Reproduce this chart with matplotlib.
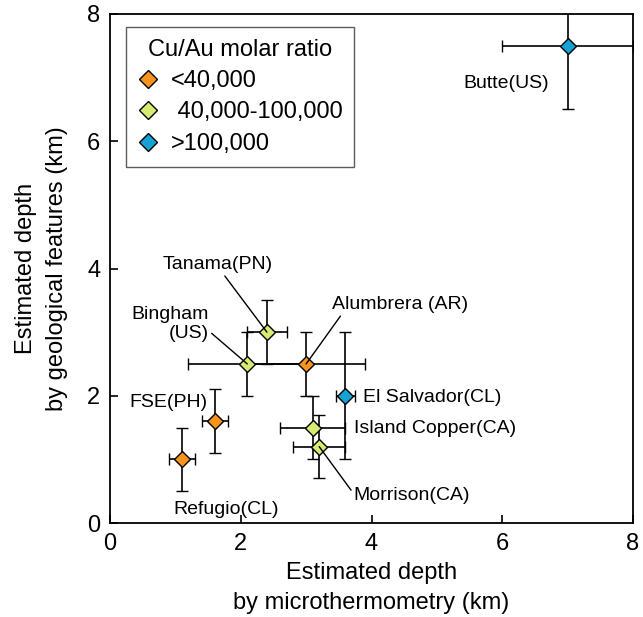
import matplotlib
matplotlib.use('Agg')
from matplotlib import pylab as plt
from matplotlib.lines import Line2D

# deposits
names = ['Butte(US)', 'Tanama(PN)', 'Bingham\n(US)', 'Alumbrera (AR)',
         'El Salvador(CL)', 'Island Copper(CA)', 'Morrison(CA)',
         'FSE(PH)', 'Refugio(CL)']
depth_micro = [7.0, 2.4, 2.1, 3.0, 3.6, 3.1, 3.2, 1.6, 1.1]
depth_geo = [7.5, 3.0, 2.5, 2.5, 2.0, 1.5, 1.2, 1.6, 1.0]
err_micro = [1.0, 0.3, 0.9, 0.9, 0.15, 0.5, 0.4, 0.2, 0.2]
err_geo = [1.0, 0.5, 0.5, 0.5, 1.0, 0.5, 0.5, 0.5, 0.5]
ratio_class = [2, 1, 1, 0, 2, 1, 1, 0, 0]

class_labels = ['<40,000', ' 40,000-100,000', '>100,000']
class_colors = ['#f7941d', '#d8ea72', '#16a2d4']

# label placement (text pos, alignment, relpos of leader line)
label_pos = {
    'Butte(US)': ((6.06, 6.9), 'center', None),
    'Tanama(PN)': ((1.64, 4.06), 'center', (0.55, 0.0)),
    'Bingham\n(US)': ((0.92, 3.13), 'center', (1.0, 0.3)),
    'Alumbrera (AR)': ((4.43, 3.43), 'center', (0.08, 0.0)),
    'El Salvador(CL)': ((3.87, 1.98), 'left', None),
    'Island Copper(CA)': ((3.73, 1.49), 'left', None),
    'Morrison(CA)': ((3.73, 0.43), 'left', (0.0, 0.6)),
    'FSE(PH)': ((0.89, 1.9), 'center', None),
    'Refugio(CL)': ((1.77, 0.22), 'center', None),
}

plt.rcParams['font.family'] = ['Liberation Sans', 'DejaVu Sans']

fig = plt.figure(figsize=(6.43, 6.17), dpi=100)
ax = fig.add_axes([110 / 643, 94 / 617, 523 / 643, 509 / 617])

for i in range(len(names)):
    ax.errorbar(depth_micro[i], depth_geo[i], xerr=err_micro[i], yerr=err_geo[i],
                fmt='D', ms=8.5, mfc=class_colors[ratio_class[i]], mec='black',
                mew=1.0, ecolor='black', elinewidth=1.2, capsize=4.5,
                capthick=1.2, zorder=3)

for i, n in enumerate(names):
    (tx, ty), ha, rel = label_pos[n]
    if rel is None:
        ax.text(tx, ty, n, ha=ha, va='center', fontsize=14)
    else:
        ax.annotate(n, xy=(depth_micro[i], depth_geo[i]), xytext=(tx, ty),
                    ha=ha, va='center', fontsize=14, multialignment='right',
                    linespacing=1.1,
                    arrowprops=dict(arrowstyle='-', color='black', lw=1.0,
                                    shrinkA=0, shrinkB=0, relpos=rel),
                    zorder=4)

ax.set_xlim(0, 8)
ax.set_ylim(0, 8)
ax.set_xticks([0, 2, 4, 6, 8])
ax.set_yticks([0, 2, 4, 6, 8])
ax.tick_params(direction='in', length=6, width=1.2, labelsize=17, pad=7,
               top=False, right=False)
for s in ax.spines.values():
    s.set_linewidth(1.3)

ax.set_xlabel('Estimated depth\nby microthermometry (km)', fontsize=17,
              linespacing=1.5, labelpad=5)
ax.set_ylabel('Estimated depth\nby geological features (km)', fontsize=17,
              linespacing=1.5, labelpad=14)

handles = [Line2D([], [], ls='none', marker='D', ms=9, mfc=c, mec='black', mew=1.0)
           for c in class_colors]
leg = ax.legend(handles, class_labels, title='Cu/Au molar ratio', loc='upper left',
                bbox_to_anchor=(0.03, 0.975), fontsize=17, title_fontsize=17,
                frameon=True, fancybox=False, edgecolor='#333333',
                handlelength=0.9, handletextpad=0.5, labelspacing=0.4,
                borderpad=0.5, borderaxespad=0)
leg.get_frame().set_linewidth(1.0)

fig.savefig('out.png', dpi=100)
